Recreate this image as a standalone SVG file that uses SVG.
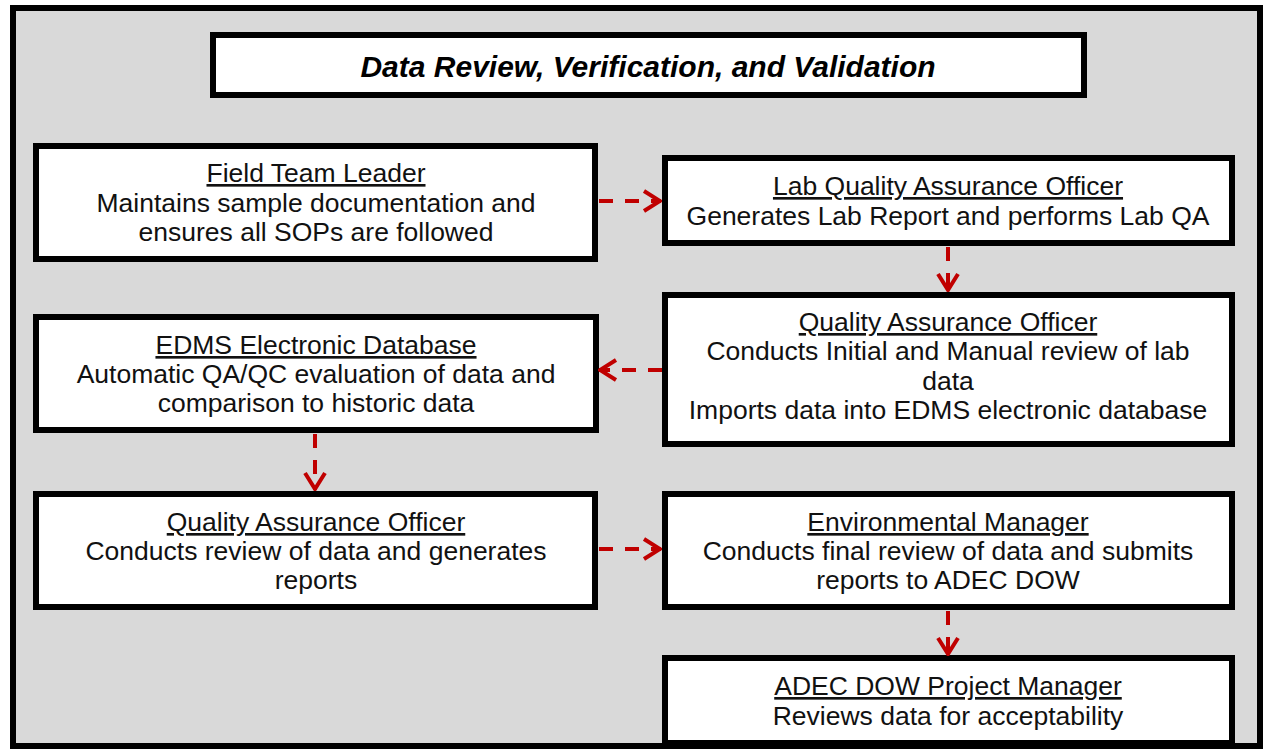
<svg xmlns="http://www.w3.org/2000/svg" width="1267" height="749" viewBox="0 0 1267 749">
<style>
.frame{fill:#d9d9d9;stroke:#000;stroke-width:6}
.box{fill:#fff;stroke:#000;stroke-width:6}
.t{font-family:"Liberation Sans",Arial,sans-serif;font-size:26.5px;fill:#111;text-anchor:middle}
.h{text-decoration:underline}
.title{font-family:"Liberation Sans",Arial,sans-serif;font-size:30px;font-weight:bold;font-style:italic;fill:#000;text-anchor:middle}
.c{fill:none;stroke:#c00000;stroke-width:4;stroke-dasharray:14 12}
</style>
<defs>
<marker id="ah" viewBox="0 0 20 24" refX="19" refY="12" markerWidth="20" markerHeight="24" markerUnits="userSpaceOnUse" orient="auto">
<path d="M2,2 L18,12 L2,22" fill="none" stroke="#c00000" stroke-width="4"/>
</marker>
</defs>
<rect class="frame" x="13" y="8" width="1247" height="738"/>
<g id="title">
<rect class="box" x="213" y="35" width="871" height="60"/>
<text class="title" x="648" y="77">Data Review, Verification, and Validation</text>
</g>
<g id="field-team-leader">
<rect class="box" x="36" y="146" width="559" height="113"/>
<text class="t h" x="316" y="182">Field Team Leader</text>
<text class="t" x="316" y="212">Maintains sample documentation and</text>
<text class="t" x="316" y="241">ensures all SOPs are followed</text>
</g>
<g id="lab-qa-officer">
<rect class="box" x="665" y="158" width="567" height="85"/>
<text class="t h" x="948" y="195">Lab Quality Assurance Officer</text>
<text class="t" x="948" y="225">Generates Lab Report and performs Lab QA</text>
</g>
<g id="qa-officer-1">
<rect class="box" x="665" y="295" width="567" height="149"/>
<text class="t h" x="948" y="331">Quality Assurance Officer</text>
<text class="t" x="948" y="360">Conducts Initial and Manual review of lab</text>
<text class="t" x="948" y="390">data</text>
<text class="t" x="948" y="419">Imports data into EDMS electronic database</text>
</g>
<g id="edms">
<rect class="box" x="36" y="317" width="560" height="113"/>
<text class="t h" x="316" y="354">EDMS Electronic Database</text>
<text class="t" x="316" y="383">Automatic QA/QC evaluation of data and</text>
<text class="t" x="316" y="412">comparison to historic data</text>
</g>
<g id="qa-officer-2">
<rect class="box" x="36" y="494" width="559" height="113"/>
<text class="t h" x="316" y="531">Quality Assurance Officer</text>
<text class="t" x="316" y="560">Conducts review of data and generates</text>
<text class="t" x="316" y="589">reports</text>
</g>
<g id="environmental-manager">
<rect class="box" x="665" y="494" width="567" height="113"/>
<text class="t h" x="948" y="531">Environmental Manager</text>
<text class="t" x="948" y="560">Conducts final review of data and submits</text>
<text class="t" x="948" y="589">reports to ADEC DOW</text>
</g>
<g id="adec-dow-pm">
<rect class="box" x="665" y="658" width="567" height="85"/>
<text class="t h" x="948" y="695">ADEC DOW Project Manager</text>
<text class="t" x="948" y="725">Reviews data for acceptability</text>
</g>
<g id="connectors">
<path class="c" d="M599,201 L661,201" marker-end="url(#ah)"/>
<path class="c" d="M948,247 L948,291" marker-end="url(#ah)"/>
<path class="c" d="M662,370 L599,370" marker-end="url(#ah)"/>
<path class="c" d="M315,434 L315,490" marker-end="url(#ah)"/>
<path class="c" d="M599,549 L661,549" marker-end="url(#ah)"/>
<path class="c" d="M948,611 L948,655" marker-end="url(#ah)"/>
</g>
</svg>
